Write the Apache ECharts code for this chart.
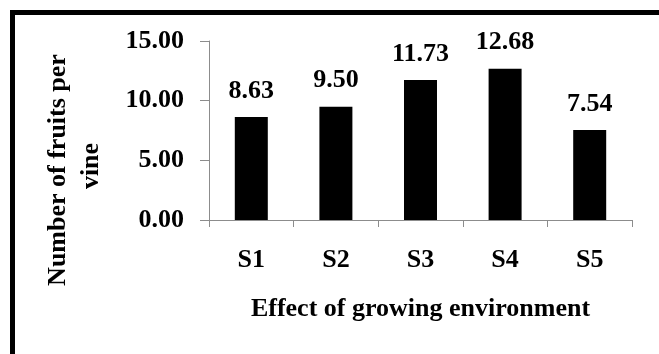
<!DOCTYPE html>
<html>
<head>
<meta charset="utf-8">
<script src="https://cdn.jsdelivr.net/npm/echarts@6/dist/echarts.min.js"></script>
<style>
  html, body { margin: 0; padding: 0; background: #fff; }
  #chart { width: 659px; height: 354px; }
</style>
</head>
<body>
<div id="chart"></div>
<script>
// Number of fruits per vine by growing environment
const categories = ['S1', 'S2', 'S3', 'S4', 'S5'];
const fruitsPerVine = [8.63, 9.50, 11.73, 12.68, 7.54];
const yTicks = [0, 5, 10, 15];

const FONT = 'Liberation Serif';
const AXIS_GREY = '#8c8c8c';

const chart = echarts.init(document.getElementById('chart'));
chart.setOption({
  backgroundColor: '#ffffff',
  animation: false,
  grid: { left: 209, right: 27, top: 41, bottom: 134 },
  xAxis: {
    type: 'category',
    data: categories,
    boundaryGap: true,
    axisLine: { lineStyle: { color: AXIS_GREY, width: 1 } },
    axisTick: { show: true, length: 7, alignWithLabel: false, lineStyle: { color: AXIS_GREY } },
    axisLabel: { margin: 27, fontFamily: FONT, fontWeight: 'bold', fontSize: 26, color: '#000' },
    name: 'Effect of growing environment',
    nameLocation: 'middle',
    nameGap: 76,
    nameTextStyle: { fontFamily: FONT, fontWeight: 'bold', fontSize: 26, color: '#000' }
  },
  yAxis: {
    type: 'value',
    min: yTicks[0],
    max: yTicks[yTicks.length - 1],
    interval: yTicks[1] - yTicks[0],
    splitLine: { show: false },
    axisLine: { show: true, lineStyle: { color: AXIS_GREY, width: 1 } },
    axisTick: { show: true, length: 9, lineStyle: { color: AXIS_GREY } },
    axisLabel: {
      margin: 25,
      fontFamily: FONT, fontWeight: 'bold', fontSize: 26, color: '#000',
      formatter: v => v.toFixed(2)
    }
  },
  graphic: [
    {
      type: 'rect',
      shape: { x: 12.5, y: 12.5, width: 800, height: 500 },
      style: { fill: 'none', stroke: '#000', lineWidth: 5 },
      silent: true
    },
    {
      type: 'text',
      x: 58, y: 170,
      rotation: Math.PI / 2,
      style: {
        text: 'Number of fruits per',
        fontFamily: FONT, fontWeight: 'bold', fontSize: 26, fill: '#000',
        align: 'center', verticalAlign: 'middle'
      }
    },
    {
      type: 'text',
      x: 91, y: 166,
      rotation: Math.PI / 2,
      style: {
        text: 'vine',
        fontFamily: FONT, fontWeight: 'bold', fontSize: 26, fill: '#000',
        align: 'center', verticalAlign: 'middle'
      }
    }
  ],
  series: [{
    type: 'bar',
    data: fruitsPerVine,
    barWidth: '39%',
    itemStyle: { color: '#000' },
    label: {
      show: true,
      position: 'top',
      distance: 13,
      fontFamily: FONT, fontWeight: 'bold', fontSize: 26, color: '#000',
      formatter: p => p.value.toFixed(2)
    }
  }]
});
</script>
</body>
</html>
